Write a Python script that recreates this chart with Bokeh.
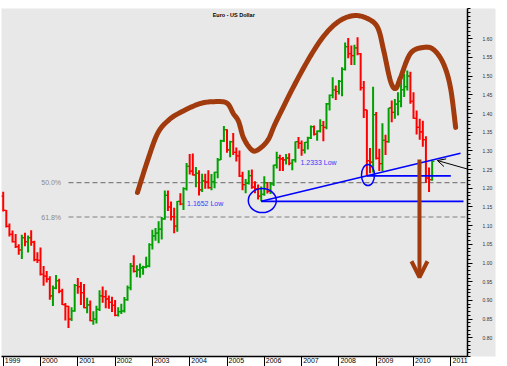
import numpy as np
from bokeh.plotting import figure
from bokeh.models import (Range1d, LinearAxis, FixedTicker, Arrow, OpenHead,
                          ColumnDataSource, PrintfTickFormatter, CustomJSTickFormatter)
from bokeh.core.properties import value
from bokeh.embed import file_html
from bokeh.resources import INLINE

# ---------------- data: monthly EUR/USD bars, Jan 1999 .. Jul 2010 ----------------
first_year = 1999
opens = [
    1.1790, 1.1410, 1.0980, 1.0770, 1.0570, 1.0440, 1.0350, 1.0680, 1.0570, 1.0680, 1.0560, 1.0090,
    1.0070, 0.9700, 0.9650, 0.9570, 0.9120, 0.9330, 0.9530, 0.9250, 0.8890, 0.8840, 0.8500, 0.8720,
    0.9400, 0.9370, 0.9210, 0.8810, 0.8880, 0.8460, 0.8500, 0.8760, 0.9120, 0.9100, 0.9040, 0.8950,
    0.8870, 0.8600, 0.8700, 0.8720, 0.9020, 0.9340, 0.9920, 0.9780, 0.9820, 0.9870, 0.9890, 0.9920,
    1.0490, 1.0730, 1.0800, 1.0910, 1.1180, 1.1810, 1.1500, 1.1240, 1.0990, 1.1650, 1.1580, 1.1990,
    1.2590, 1.2460, 1.2360, 1.2400, 1.1960, 1.2200, 1.2170, 1.2020, 1.2180, 1.2430, 1.2760, 1.3270,
    1.3570, 1.3030, 1.3250, 1.2960, 1.2870, 1.2330, 1.2100, 1.2130, 1.2340, 1.2030, 1.1990, 1.1790,
    1.1840, 1.2150, 1.1920, 1.2120, 1.2620, 1.2820, 1.2790, 1.2760, 1.2810, 1.2670, 1.2760, 1.3250,
    1.3200, 1.3020, 1.3230, 1.3350, 1.3650, 1.3450, 1.3530, 1.3680, 1.3630, 1.4260, 1.4490, 1.4630,
    1.4590, 1.4860, 1.5180, 1.5790, 1.5600, 1.5550, 1.5760, 1.5600, 1.4690, 1.4100, 1.2740, 1.2700,
    1.3970, 1.2800, 1.2660, 1.3280, 1.3250, 1.4150, 1.4030, 1.4250, 1.4330, 1.4640, 1.4720, 1.5000,
    1.4330, 1.3870, 1.3630, 1.3510, 1.3300, 1.2270, 1.2230,
]
highs = [
    1.1910, 1.1420, 1.1060, 1.0870, 1.0780, 1.0500, 1.0760, 1.0810, 1.0740, 1.0880, 1.0600, 1.0290,
    1.0415, 0.9920, 0.9790, 0.9650, 0.9400, 0.9680, 0.9580, 0.9310, 0.8930, 0.8860, 0.8820, 0.9440,
    0.9600, 0.9490, 0.9440, 0.9070, 0.9000, 0.8710, 0.8860, 0.9270, 0.9370, 0.9270, 0.9130, 0.9100,
    0.9010, 0.8820, 0.8910, 0.9090, 0.9400, 1.0000, 1.0210, 0.9940, 0.9990, 0.9930, 1.0170, 1.0530,
    1.0890, 1.0940, 1.1120, 1.1230, 1.1940, 1.1940, 1.1650, 1.1480, 1.1660, 1.1870, 1.2030, 1.2680,
    1.2920, 1.2930, 1.2570, 1.2480, 1.2390, 1.2390, 1.2480, 1.2380, 1.2440, 1.2810, 1.3300, 1.3670,
    1.3580, 1.3270, 1.3480, 1.3090, 1.3010, 1.2440, 1.2250, 1.2480, 1.2500, 1.2190, 1.2100, 1.2050,
    1.2320, 1.2170, 1.2170, 1.2630, 1.2980, 1.2900, 1.2840, 1.2920, 1.2940, 1.2780, 1.3250, 1.3370,
    1.3280, 1.3240, 1.3380, 1.3680, 1.3680, 1.3550, 1.3850, 1.3800, 1.4280, 1.4510, 1.4970, 1.4750,
    1.4900, 1.5240, 1.5900, 1.6020, 1.5820, 1.5840, 1.6040, 1.5620, 1.4870, 1.4100, 1.3080, 1.4720,
    1.4040, 1.3060, 1.3740, 1.3430, 1.4150, 1.4350, 1.4390, 1.4570, 1.4880, 1.5060, 1.5150, 1.5120,
    1.4570, 1.4080, 1.3860, 1.3810, 1.3390, 1.2560, 1.2740,
]
lows = [
    1.1380, 1.0950, 1.0710, 1.0550, 1.0400, 1.0220, 1.0110, 1.0450, 1.0280, 1.0460, 1.0050, 1.0000,
    0.9670, 0.9390, 0.9480, 0.9020, 0.8850, 0.9300, 0.9190, 0.8880, 0.8460, 0.8260, 0.8450, 0.8700,
    0.9180, 0.8880, 0.8790, 0.8660, 0.8440, 0.8350, 0.8380, 0.8720, 0.8940, 0.8790, 0.8780, 0.8690,
    0.8580, 0.8570, 0.8640, 0.8680, 0.8990, 0.9270, 0.9750, 0.9620, 0.9610, 0.9690, 0.9860, 0.9890,
    1.0360, 1.0600, 1.0530, 1.0630, 1.1160, 1.1390, 1.1140, 1.0800, 1.0840, 1.1550, 1.1420, 1.1940,
    1.2370, 1.2340, 1.2030, 1.1810, 1.1900, 1.1990, 1.1990, 1.1950, 1.2000, 1.2270, 1.2760, 1.3240,
    1.2950, 1.2830, 1.2890, 1.2720, 1.2300, 1.1950, 1.1870, 1.2100, 1.1990, 1.1870, 1.1700, 1.1652,
    1.1800, 1.1860, 1.1850, 1.2060, 1.2530, 1.2460, 1.2460, 1.2640, 1.2620, 1.2480, 1.2690, 1.3060,
    1.2870, 1.2930, 1.3040, 1.3320, 1.3410, 1.3270, 1.3490, 1.3260, 1.3580, 1.4080, 1.4410, 1.4360,
    1.4510, 1.4460, 1.5150, 1.5480, 1.5300, 1.5300, 1.5560, 1.4620, 1.3880, 1.2333, 1.2400, 1.2420,
    1.2770, 1.2460, 1.2460, 1.2890, 1.3220, 1.3770, 1.3860, 1.3950, 1.4170, 1.4440, 1.4620, 1.4260,
    1.3860, 1.3440, 1.3300, 1.3110, 1.2140, 1.1900, 1.2200,
]
closes = [
    1.1410, 1.0980, 1.0770, 1.0570, 1.0440, 1.0350, 1.0680, 1.0570, 1.0680, 1.0560, 1.0090, 1.0070,
    0.9700, 0.9650, 0.9570, 0.9120, 0.9330, 0.9530, 0.9250, 0.8890, 0.8840, 0.8500, 0.8720, 0.9400,
    0.9370, 0.9210, 0.8810, 0.8880, 0.8460, 0.8500, 0.8760, 0.9120, 0.9100, 0.9040, 0.8950, 0.8870,
    0.8600, 0.8700, 0.8720, 0.9020, 0.9340, 0.9920, 0.9780, 0.9820, 0.9870, 0.9890, 0.9920, 1.0490,
    1.0730, 1.0800, 1.0910, 1.1180, 1.1810, 1.1500, 1.1240, 1.0990, 1.1650, 1.1580, 1.1990, 1.2590,
    1.2460, 1.2360, 1.2400, 1.1960, 1.2200, 1.2170, 1.2020, 1.2180, 1.2430, 1.2760, 1.3270, 1.3570,
    1.3030, 1.3250, 1.2960, 1.2870, 1.2330, 1.2100, 1.2130, 1.2340, 1.2030, 1.1990, 1.1790, 1.1840,
    1.2150, 1.1920, 1.2120, 1.2620, 1.2820, 1.2790, 1.2760, 1.2810, 1.2670, 1.2760, 1.3250, 1.3200,
    1.3020, 1.3230, 1.3350, 1.3650, 1.3450, 1.3530, 1.3680, 1.3630, 1.4260, 1.4490, 1.4630, 1.4590,
    1.4860, 1.5180, 1.5790, 1.5600, 1.5550, 1.5760, 1.5600, 1.4690, 1.4100, 1.2740, 1.2700, 1.3970,
    1.2800, 1.2660, 1.3280, 1.3250, 1.4150, 1.4030, 1.4250, 1.4330, 1.4640, 1.4720, 1.5000, 1.4330,
    1.3870, 1.3630, 1.3510, 1.3300, 1.2270, 1.2230, 1.2720,
]
year_ticks = list(range(1999, 2012))
price_ticks = [0.80, 0.85, 0.90, 0.95, 1.00, 1.05, 1.10, 1.15, 1.20, 1.25, 1.30, 1.35, 1.40, 1.45, 1.50, 1.55, 1.60]
title_text = "Euro - US Dollar"
fib_levels = [0.5, 0.618]
fib_labels = ["50.0%", "61.8%"]
support_lows = [1.1652, 1.2333]
support_labels = ["1.1652 Low", "1.2333 Low"]

# hand-drawn pattern outline (annotation), in (year, price)
curve_x = [2002.60, 2002.87, 2003.14, 2003.43, 2003.75, 2004.29, 2004.75, 2005.01, 2005.17, 2005.31,
           2005.44, 2005.63, 2005.79, 2006.09, 2006.33, 2006.97, 2007.51, 2007.96, 2008.39, 2008.77,
           2009.04, 2009.20, 2009.38, 2009.52, 2009.65, 2009.92, 2010.27, 2010.54, 2010.80, 2010.99, 2011.13]
curve_y = [1.189, 1.274, 1.347, 1.382, 1.403, 1.427, 1.432, 1.427, 1.400, 1.379,
           1.336, 1.306, 1.301, 1.328, 1.381, 1.507, 1.596, 1.644, 1.662, 1.654,
           1.630, 1.569, 1.488, 1.467, 1.496, 1.561, 1.577, 1.571, 1.534, 1.470, 1.363]

# ---------------- derived ----------------
n = len(closes)
xs = [first_year + i / 12.0 for i in range(n)]
colors = ["#00a000" if c >= o else "#ff0000" for o, c in zip(opens, closes)]
tick_w = 0.06
src = ColumnDataSource(dict(x=xs, o=opens, h=highs, l=lows, c=closes, color=colors,
                            xl=[x - tick_w for x in xs], xr=[x + tick_w for x in xs]))

hi, lo = max(highs), min(lows)
lo_x = xs[lows.index(lo)]
fib_vals = [hi - f * (hi - lo) for f in fib_levels]

i1, i2 = lows.index(support_lows[0]), lows.index(support_lows[1])
x1, y1 = xs[i1], lows[i1]
x2, y2 = xs[i2], lows[i2]
slope = (y2 - y1) / (x2 - x1)
trend_end = 2011.26

BG = "#e8e8e8"
BROWN = "#a13a0c"
BLUE = "#0000ff"
FONT = "Liberation Sans"

p = figure(width=497, height=366,
           x_range=Range1d(1998.9544, 2011.4477), y_range=Range1d(0.750, 1.6811),
           output_backend="svg", toolbar_location=None,
           x_axis_location=None, y_axis_location=None,
           min_border_left=1, min_border_top=8, min_border_right=30, min_border_bottom=10,
           background_fill_color=BG, border_fill_color="white", outline_line_color=None)
p.grid.grid_line_color = None

# right price axis
yaxis = LinearAxis(
    ticker=FixedTicker(ticks=price_ticks,
                       minor_ticks=[round(v / 100.0, 2) for v in range(75, 169)]),
    formatter=PrintfTickFormatter(format="%.2f"),
    axis_line_color="black", axis_line_width=1.5,
    major_tick_in=0, major_tick_out=5, minor_tick_in=0, minor_tick_out=3,
    major_tick_line_color="black", minor_tick_line_color="black",
    major_label_standoff=10, major_label_text_font_size="5px",
    major_label_text_font=FONT, major_label_text_color="#333333",
    background_fill_color=BG)
p.add_layout(yaxis, "right")

# bottom year axis: labels sit just right of the year tick, inside the tick length
label_off = 0.25
xaxis = LinearAxis(
    ticker=FixedTicker(ticks=[y + label_off for y in year_ticks], minor_ticks=year_ticks),
    formatter=CustomJSTickFormatter(code="return String(Math.floor(tick + 0.001));"),
    axis_line_color="black", axis_line_width=1.5,
    major_tick_in=0, major_tick_out=0, major_tick_line_color=None,
    minor_tick_in=0, minor_tick_out=10, minor_tick_line_color="black",
    major_label_standoff=-9, major_label_text_font_size="7px",
    major_label_text_font=FONT, major_label_text_color="black")
p.add_layout(xaxis, "below")

# title
p.text(x=[2005.18], y=[1.665], text=[title_text], text_font=value(FONT),
       text_font_size="5.5px", text_font_style="bold", text_color="black",
       text_align="center", text_baseline="middle")

# fibonacci retracement lines
for fv, fl in zip(fib_vals, fib_labels):
    p.line([lo_x, 2011.39], [fv, fv], line_color="#808080", line_width=1.2, line_dash="5 3")
    p.text(x=[2000.02], y=[fv], text=[fl], text_font=value(FONT), text_font_size="7px",
           text_color="#8a8a8a", text_align="left", text_baseline="middle")

# OHLC bars
p.segment(x0="x", y0="l", x1="x", y1="h", line_color="color", line_width=2, source=src)
p.segment(x0="xl", y0="o", x1="x", y1="o", line_color="color", line_width=1.2, source=src)
p.segment(x0="x", y0="c", x1="xr", y1="c", line_color="color", line_width=1.2, source=src)

# support lines / trendline
p.line([x1, trend_end], [y1, y2 + slope * (trend_end - x2)], line_color=BLUE, line_width=1.5)
p.line([x1, 2011.34], [y1, y1], line_color=BLUE, line_width=1.8)
p.line([x2, 2011.0], [y2, y2], line_color=BLUE, line_width=1.8)
p.ellipse(x=[x1 + 0.03, x2 + 0.03], y=[y1 + 0.002, y2 + 0.002], width=[28, 13], height=[24, 21],
          width_units="screen", height_units="screen",
          fill_color=None, line_color=BLUE, line_width=1.5)
p.text(x=[2003.93, 2006.97], y=[1.1585, 1.2698], text=support_labels, text_font=value(FONT),
       text_font_size="7px", text_color="#3838ff", text_align="left", text_baseline="middle")

# smooth brown outline
def catmull(xv, yv, steps=14):
    P = np.column_stack([xv, yv])
    P = np.vstack([P[0], P, P[-1]])
    out = []
    for k in range(1, len(P) - 2):
        p0, p1, p2, p3 = P[k - 1], P[k], P[k + 1], P[k + 2]
        for t in np.linspace(0, 1, steps, endpoint=False):
            out.append(0.5 * (2 * p1 + (-p0 + p2) * t + (2 * p0 - 5 * p1 + 4 * p2 - p3) * t * t
                              + (-p0 + 3 * p1 - 3 * p2 + p3) * t ** 3))
    out.append(P[-2])
    return np.array(out)

cv = catmull(curve_x, curve_y)
p.line(cv[:, 0], cv[:, 1], line_color=BROWN, line_width=5, line_cap="round", line_join="round")

# brown down arrow
p.add_layout(Arrow(end=OpenHead(size=16, line_width=4, line_color=BROWN),
                   x_start=2010.16, y_start=1.277, x_end=2010.16, y_end=0.962,
                   line_color=BROWN, line_width=4))
# black pointer arrow
p.add_layout(Arrow(end=OpenHead(size=8, line_width=1, line_color="black"),
                   x_start=2012.62, y_start=1.2182, x_end=2010.64, y_end=1.2744,
                   line_color="black", line_width=1))

open("out.html", "w").write(file_html(p, INLINE))
